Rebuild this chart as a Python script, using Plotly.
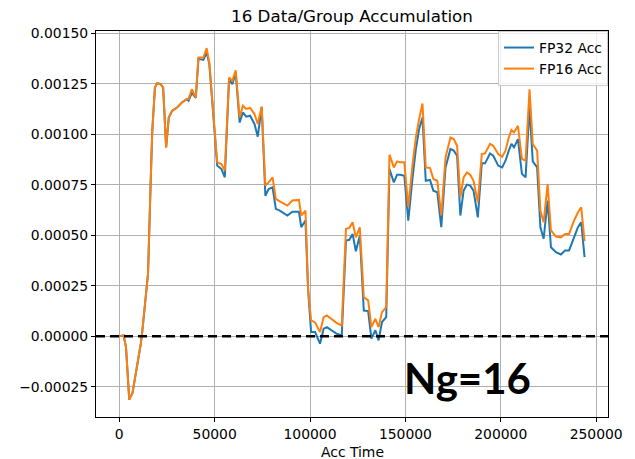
import plotly.graph_objects as go

acc_time = [0, 2280, 3520, 5230, 6940, 8700, 11290, 12120, 13890, 15080,
            16480, 17300, 18700, 19900, 21660, 23000, 24560, 25960, 27670, 30260,
            32850, 35440, 36320, 38030, 40100, 41500, 44090, 45800, 47200, 51340,
            53570, 55330, 57560, 59270, 61030, 63100, 64810, 66520, 68600, 70880,
            72590, 74660, 76580, 78290, 80360, 82070, 84140, 88130, 90720, 94190,
            95380, 97610, 99010, 100560, 102640, 105230, 107140, 108850, 114030, 116620,
            118850, 120610, 122320, 124030, 126100, 128180, 130460, 132170, 134240, 135950,
            137710, 139940, 141650, 143930, 145640, 147350, 149420, 151490, 153770, 155480,
            157190, 158950, 160660, 162890, 164650, 166720, 168800, 171030, 173610, 175330,
            177090, 178800, 180510, 182270, 183980, 185690, 187970, 190040, 191750, 194340,
            196050, 198640, 200710, 202470, 204180, 205580, 206930, 209000, 211070, 212990,
            215060, 216770, 219050, 220760, 222470, 224540, 226300, 228890, 231480, 233720,
            235790, 238380, 240450, 242160, 243920]

fp16_acc = [0.0, 0.000005, -0.000053, -0.000313, -0.00028, -0.000183, -0.000036, 0.00003, 0.000194, 0.000311,
            0.00077, 0.001017, 0.001231, 0.001253, 0.001248, 0.001231, 0.000935, 0.001083, 0.001116, 0.001132,
            0.001157, 0.001174, 0.001174, 0.001223, 0.001182, 0.00138, 0.00138, 0.001426, 0.001355, 0.000861,
            0.000853, 0.00082, 0.001281, 0.001264, 0.001317, 0.001083, 0.001141, 0.001125, 0.00113, 0.0011,
            0.001051, 0.001136, 0.000746, 0.000762, 0.000787, 0.00068, 0.000668, 0.000647, 0.000672, 0.000675,
            0.000598, 0.000622, 0.000227, 0.000079, 0.000069, 0.000021, 0.000095, 0.000104, 0.000066, 0.000054,
            0.000532, 0.000537, 0.000565, 0.00049, 0.00054, 0.000194, 0.000178, 0.000046, 0.000087, 0.000046,
            0.00012, 0.000145, 0.000899, 0.000836, 0.000866, 0.000861, 0.000861, 0.000639, 0.000853, 0.000984,
            0.001075, 0.001152, 0.000836, 0.000833, 0.000779, 0.00077, 0.000598, 0.000886, 0.000984, 0.000976,
            0.000943, 0.000688, 0.000787, 0.000811, 0.0008, 0.00077, 0.000663, 0.000902, 0.000905, 0.000952,
            0.000943, 0.000902, 0.000889, 0.000919, 0.000984, 0.001021, 0.001009, 0.001042, 0.000878, 0.000869,
            0.001223, 0.000952, 0.000919, 0.000622, 0.000565, 0.000754, 0.000524, 0.000494, 0.00049, 0.000507,
            0.000507, 0.000573, 0.000614, 0.000639, 0.000471]

fp32_acc = [0.0, 0.000005, -0.000053, -0.000313, -0.00028, -0.000183, -0.000036, 0.00003, 0.000194, 0.000311,
            0.00077, 0.001017, 0.001231, 0.001253, 0.001248, 0.001231, 0.000935, 0.001083, 0.001116, 0.001132,
            0.001157, 0.001174, 0.001166, 0.001205, 0.00118, 0.001373, 0.001368, 0.001404, 0.001348, 0.000845,
            0.000828, 0.000787, 0.001273, 0.001248, 0.001305, 0.001058, 0.001108, 0.001087, 0.001092, 0.001051,
            0.000988, 0.001136, 0.000696, 0.000729, 0.000737, 0.000631, 0.000622, 0.000598, 0.000617, 0.000617,
            0.00054, 0.000573, 0.000227, 0.000021, 0.000021, -0.000036, 0.000038, 0.000046, 0.000013, 0.000005,
            0.000474, 0.000478, 0.000507, 0.000421, 0.000499, 0.000128, 0.000125, -0.000011, 0.00003, -0.00002,
            0.000071, 0.000095, 0.000828, 0.000762, 0.0008, 0.0008, 0.000795, 0.000573, 0.000787, 0.000927,
            0.001026, 0.001083, 0.00077, 0.000774, 0.000721, 0.000713, 0.00054, 0.000836, 0.000927, 0.000919,
            0.000894, 0.000598, 0.000721, 0.000751, 0.000746, 0.000721, 0.000589, 0.000856, 0.000856, 0.000905,
            0.000894, 0.000845, 0.000836, 0.000869, 0.000919, 0.000952, 0.000935, 0.000976, 0.000804, 0.000787,
            0.001133, 0.000866, 0.000836, 0.00054, 0.000483, 0.000672, 0.000441, 0.000417, 0.000405, 0.000425,
            0.000425, 0.00049, 0.00054, 0.000565, 0.000392]

y_ticks = [-0.00025, 0.0, 0.00025, 0.0005, 0.00075, 0.001, 0.00125, 0.0015]
x_ticks = [0, 50000, 100000, 150000, 200000, 250000]

title_text = "16 Data/Group Accumulation"
x_label = "Acc Time"
note_text = "Ng=16"

FONT = "DejaVu Sans"

fig = go.Figure()
fig.add_trace(go.Scatter(x=acc_time, y=fp32_acc, mode="lines", name="FP32 Acc",
                         line=dict(color="#1f77b4", width=2)))
fig.add_trace(go.Scatter(x=acc_time, y=fp16_acc, mode="lines", name="FP16 Acc",
                         line=dict(color="#ff7f0e", width=2)))

fig.add_shape(type="line", xref="paper", x0=0, x1=1, yref="y", y0=0, y1=0,
              line=dict(color="black", width=2.5, dash="9px,5px"), layer="above")

axis_common = dict(showline=True, mirror=True, linecolor="black", linewidth=1,
                   ticks="outside", ticklen=4, tickcolor="black", tickwidth=1,
                   showgrid=True, gridcolor="#b0b0b0", gridwidth=1, zeroline=False,
                   tickfont=dict(family=FONT, size=13.9, color="#000000"))

fig.update_layout(
    width=635, height=459,
    margin=dict(l=96, r=21, t=31, b=42),
    paper_bgcolor="white", plot_bgcolor="white",
    font=dict(family=FONT, size=13.9, color="#000000"),
    title=dict(text=title_text, x=0.5, xref="paper", y=1 - 16 / 459, yref="container",
               xanchor="center", yanchor="middle",
               font=dict(family=FONT, size=16.7, color="#000000")),
    xaxis=dict(range=[-12200, 256200], tickvals=x_ticks, tickformat="d", **axis_common),
    yaxis=dict(range=[-0.000399, 0.001511], tickvals=y_ticks, tickformat=".5f", **axis_common),
    legend=dict(x=1, y=1, xanchor="right", yanchor="top",
                bgcolor="rgba(255,255,255,0.8)", bordercolor="#cccccc", borderwidth=1,
                font=dict(family=FONT, size=13.9, color="#000000")),
    showlegend=True,
)

fig.add_annotation(text=x_label, xref="paper", yref="paper", x=0.5, y=0,
                   xanchor="center", yanchor="middle", yshift=-35, showarrow=False,
                   font=dict(family=FONT, size=13.9, color="#000000"))
fig.add_annotation(text="<b>" + note_text + "</b>", xref="paper", yref="paper",
                   x=(472 - 96) / 518, y=(417 - 378) / 386,
                   xanchor="center", yanchor="middle", showarrow=False,
                   font=dict(family="Lato", size=42, color="#000000"))

fig.write_html("out.html")
